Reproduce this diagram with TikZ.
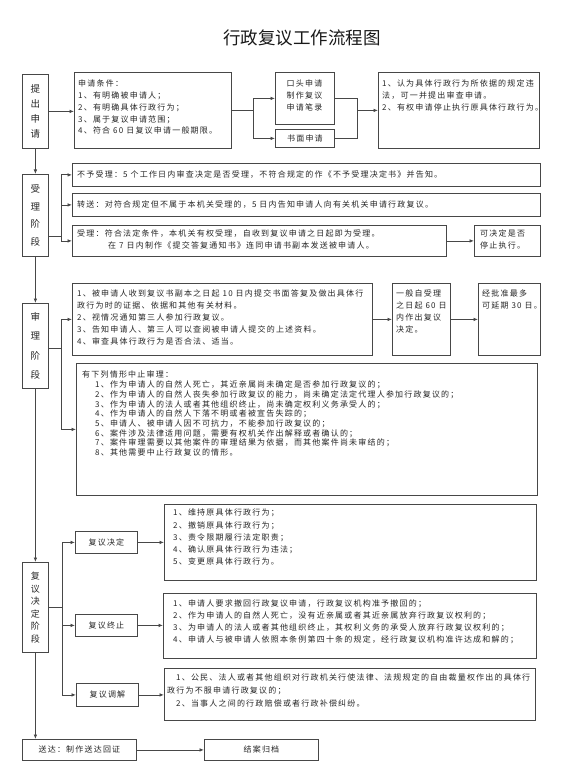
\documentclass[tikz,border=0pt]{standalone}
\usepackage{fontspec}
\setmainfont{Noto Sans CJK SC}[LetterSpace=15]
\newfontfamily\titlefont{Noto Sans CJK SC}
\usetikzlibrary{arrows.meta,calc}
\newcommand\mybox[5]{\node[frame, minimum width=#4pt, minimum height=#5pt] (#1) at (#2,#3) {};}
\begin{document}
\begin{tikzpicture}[x=1pt,y=-1pt,
  font=\fontsize{8}{11.7}\selectfont,
  frame/.style={draw=black!72, line width=0.8pt, inner sep=0pt, anchor=north west, text=black!85},
  txt/.style={inner sep=0pt, anchor=north west, align=left, text=black!85},
  stg/.style={inner sep=0pt, align=center, text=black!85},
  ln/.style={draw=black!72, line width=0.8pt},
  arr/.style={draw=black!72, line width=0.8pt, -{Latex[length=4.5pt,width=3.6pt]}}]
\fill[white] (0,0) rectangle (564,778);
\useasboundingbox (0,0) rectangle (564,778);

% title
\node[inner sep=0pt, text=black!90] (title) at (302,38) {\titlefont\fontsize{17.5}{18}\selectfont 行政复议工作流程图};

% stage boxes
\mybox{s1}{22}{74}{26}{74}
\mybox{s2}{22}{174}{26}{82}
\mybox{s3}{22}{303}{26}{85}
\mybox{s4}{22}{562}{26}{90}
\node[stg, font=\fontsize{9.5}{15.3}\selectfont] (s1t) at (s1.center) {提\\出\\申\\请};
\node[stg, font=\fontsize{9.5}{17.7}\selectfont] (s2t) at (s2.center) {受\\理\\阶\\段};
\node[stg, font=\fontsize{9.5}{19.5}\selectfont] (s3t) at (s3.center) {审\\理\\阶\\段};
\node[stg, font=\fontsize{9}{12.5}\selectfont] (s4t) at (s4.center) {复\\议\\决\\定\\阶\\段};

% row 1
\mybox{cond}{74}{72}{157}{76}
\mybox{oral}{275}{72}{59}{52}
\node[frame, minimum width=59pt, minimum height=18pt] (written) at (275,129) {书面申请};
\mybox{right1}{378}{72}{161}{76}
\node[txt] (condt) at (78,80) {申请条件：\\1、有明确被申请人；\\2、有明确具体行政行为；\\3、属于复议申请范围；\\4、符合 60 日复议申请一般期限。};
\node[txt, align=center, anchor=north] (oralt) at (304.5,80) {口头申请\\制作复议\\申请笔录};
\node[txt] (right1t) at (382,80) {1、认为具体行政行为所依据的规定违\\法，可一并提出审查申请。\\2、有权申请停止执行原具体行政行为。};

% row 2
\mybox{r1}{72}{163}{468}{23}
\mybox{r2}{72}{193}{468}{23}
\mybox{r3}{72}{225}{374}{31}
\mybox{r3b}{474}{225}{66}{31}
\node[txt, anchor=west] (r1t) at (77,174.5) {不予受理：5 个工作日内审查决定是否受理，不符合规定的作《不予受理决定书》并告知。};
\node[txt, anchor=west] (r2t) at (77,204.5) {转送：对符合规定但不属于本机关受理的，5 日内告知申请人向有关机关申请行政复议。};
\node[txt, font=\fontsize{8}{12}\selectfont] (r3t) at (77,230) {受理：符合法定条件，本机关有权受理，自收到复议申请之日起即为受理。\\\hspace*{31pt}在 7 日内制作《提交答复通知书》连同申请书副本发送被申请人。};
\node[txt, font=\fontsize{8}{12}\selectfont] (r3bt) at (480,230) {可决定是否\\停止执行。};

% row 3
\mybox{rb1}{72}{283}{300}{72}
\mybox{rb2}{392}{283}{58}{72}
\mybox{rb3}{478}{283}{62}{72}
\mybox{susp}{76}{363}{461}{132}
\node[txt, font=\fontsize{8}{11.8}\selectfont] (rb1t) at (77,290) {1、被申请人收到复议书副本之日起 10 日内提交书面答复及做出具体行\\政行为时的证据、依据和其他有关材料。\\2、视情况通知第三人参加行政复议。\\3、告知申请人、第三人可以查阅被申请人提交的上述资料。\\4、审查具体行政行为是否合法、适当。};
\node[txt, font=\fontsize{8}{11.8}\selectfont] (rb2t) at (396,290) {一般自受理\\之日起 60 日\\内作出复议\\决定。};
\node[txt, font=\fontsize{8}{11.8}\selectfont] (rb3t) at (482,290) {经批准最多\\可延期 30 日。};
\node[txt, font=\fontsize{8}{9.7}\selectfont] (suspt) at (82,371) {有下列情形中止审理：\\
\hspace*{13pt}1、作为申请人的自然人死亡，其近亲属尚未确定是否参加行政复议的；\\
\hspace*{13pt}2、作为申请人的自然人丧失参加行政复议的能力，尚未确定法定代理人参加行政复议的；\\
\hspace*{13pt}3、作为申请人的法人或者其他组织终止，尚未确定权利义务承受人的；\\
\hspace*{13pt}4、作为申请人的自然人下落不明或者被宣告失踪的；\\
\hspace*{13pt}5、申请人、被申请人因不可抗力，不能参加行政复议的；\\
\hspace*{13pt}6、案件涉及法律适用问题，需要有权机关作出解释或者确认的；\\
\hspace*{13pt}7、案件审理需要以其他案件的审理结果为依据，而其他案件尚未审结的；\\
\hspace*{13pt}8、其他需要中止行政复议的情形。};

% row 4
\node[frame, minimum width=62pt, minimum height=22pt] (d1) at (75,531) {复议决定};
\node[frame, minimum width=62pt, minimum height=22pt] (d2) at (75,614) {复议终止};
\node[frame, minimum width=62pt, minimum height=23pt] (d3) at (76,683) {复议调解};
\mybox{A}{164}{504}{372}{76}
\mybox{B}{163}{593}{373}{65}
\mybox{C}{164}{668}{371}{52}
\node[txt, font=\fontsize{8}{12.2}\selectfont] (At) at (173,509) {1、维持原具体行政行为；\\2、撤销原具体行政行为；\\3、责令限期履行法定职责；\\4、确认原具体行政行为违法；\\5、变更原具体行政行为。};
\node[txt, font=\fontsize{8}{11.8}\selectfont] (Bt) at (173,600) {1、申请人要求撤回行政复议申请，行政复议机构准予撤回的；\\2、作为申请人的自然人死亡，没有近亲属或者其近亲属放弃行政复议权利的；\\3、为申请人的法人或者其他组织终止，其权利义务的承受人放弃行政复议权利的；\\4、申请人与被申请人依照本条例第四十条的规定，经行政复议机构准许达成和解的；};
\node[txt, font=\fontsize{8}{13}\selectfont] (Ct) at (167,674) {\hspace*{9pt}1、公民、法人或者其他组织对行政机关行使法律、法规规定的自由裁量权作出的具体行\\政行为不服申请行政复议的；\\\hspace*{9pt}2、当事人之间的行政赔偿或者行政补偿纠纷。};

\node[frame, minimum width=114pt, minimum height=21pt] (send) at (22,739) {送达：制作送达回证};
\node[frame, minimum width=114pt, minimum height=21pt] (close) at (204,739) {结案归档};

% main column
\draw[arr] (s1.south) -- (s2.north);
\draw[arr] (s2.south) -- (s3.north);
\draw[arr] (s3.south) -- (s4.north);
\draw[arr] (s4.south) -- (s4.south |- send.north);

% row 1 connectors
\draw[arr] (s1.east) -- (s1.east -| cond.west);
\draw[ln] (cond.east) -- ++(22,0) coordinate (j1);
\draw[arr] (j1) |- (oral.west);
\draw[arr] (j1) |- (written.west);
\draw[ln] (oral.east) -- ++(23,0) coordinate (j2);
\draw[ln] (written.east) -- (written.east -| j2) -- (j2);
\draw[arr] (j2 |- right1.west) -- (right1.west);

% row 2 connectors
\coordinate (b1) at (61,236);
\draw[ln] (s2.east |- b1) -- (b1);
\draw[arr] (b1) |- (r1.west);
\draw[arr] (b1) |- (r2.west);
\draw[arr] (b1) |- (r3.west);
\draw[arr] (r3.east) -- (r3b.west);

% row 3 connectors
\coordinate (b2) at (61,348);
\draw[ln] (s3.east |- b2) -- (b2);
\draw[arr] (b2) |- (rb1.west);
\draw[arr] (b2) |- (susp.west);
\draw[arr] (rb1.east) -- (rb2.west);
\draw[arr] (rb2.east) -- (rb3.west);

% row 4 connectors
\coordinate (b3) at (62,607);
\draw[ln] (s4.east |- b3) -- (b3);
\draw[arr] (b3) |- (d1.west);
\draw[arr] (b3) |- (d2.west);
\draw[arr] (b3) |- (d3.west);
\draw[arr] (d1.east) -- (d1.east -| A.west);
\draw[arr] (d2.east) -- (d2.east -| B.west);
\draw[arr] (d3.east) -- (d3.east -| C.west);
\draw[arr] (send.east) -- (close.west);
\end{tikzpicture}
\end{document}
